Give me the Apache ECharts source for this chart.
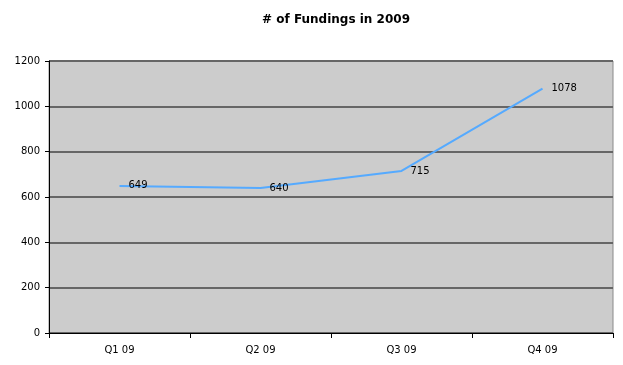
<!DOCTYPE html>
<html>
<head>
<meta charset="utf-8">
<script src="https://cdn.jsdelivr.net/npm/echarts@6/dist/echarts.min.js"></script>
<style>html,body{margin:0;padding:0;background:#fff;}#c{width:623px;height:365px;}</style>
</head>
<body>
<div id="c"></div>
<script>
const categories = ['Q1 09', 'Q2 09', 'Q3 09', 'Q4 09'];
const fundings = [649, 640, 715, 1078];
const yTicks = { min: 0, max: 1200, interval: 200 };

const chart = echarts.init(document.getElementById('c'));
const font = 'DejaVu Sans, Verdana, sans-serif';
chart.setOption({
  animation: false,
  backgroundColor: '#ffffff',
  title: {
    text: '# of Fundings in 2009',
    left: 331, top: 9, textAlign: 'center',
    textStyle: { fontFamily: font, fontSize: 12, fontWeight: 'bold', color: '#000' }
  },
  grid: {
    left: 49, right: 10, top: 61, bottom: 32,
    show: true, backgroundColor: '#cccccc', borderColor: '#8a8a8a', borderWidth: 1
  },
  xAxis: {
    type: 'category', data: categories, boundaryGap: true,
    axisLine: { lineStyle: { color: '#000', width: 1 } },
    axisTick: { show: true, length: 5, lineStyle: { color: '#000' } },
    axisLabel: { color: '#000', fontFamily: font, fontSize: 10, margin: 12 },
    splitLine: { show: false }
  },
  yAxis: {
    type: 'value', min: yTicks.min, max: yTicks.max, interval: yTicks.interval,
    axisLine: { show: true, lineStyle: { color: '#000', width: 1 } },
    axisTick: { show: true, length: 4, lineStyle: { color: '#000' } },
    axisLabel: { color: '#000', fontFamily: font, fontSize: 10, margin: 9, formatter: v => String(v) },
    splitLine: { show: true, lineStyle: { color: '#666666', width: 2 } }
  },
  series: [{
    type: 'line', data: fundings, showSymbol: true, symbol: 'circle', symbolSize: 2,
    itemStyle: { color: 'rgba(0,0,0,0)', borderWidth: 0 },
    lineStyle: { color: '#55aaff', width: 2 },
    label: {
      show: true, position: 'right', distance: 8, opacity: 1,
      color: '#000', fontFamily: font, fontSize: 10
    }
  }]
});
</script>
</body>
</html>
